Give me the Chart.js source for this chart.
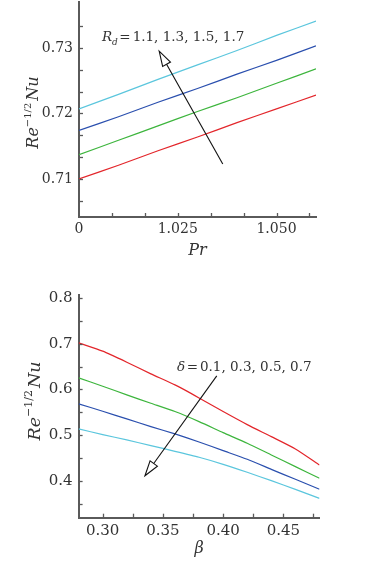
<!DOCTYPE html>
<html><head><meta charset="utf-8">
<script src="https://cdn.jsdelivr.net/npm/chart.js@4/dist/chart.umd.min.js"></script>
<style>
html,body{margin:0;padding:0;background:#fff;}
#wrap{position:relative;width:382px;height:565px;overflow:hidden;}
#c1{position:absolute;left:0;top:0;}
#c2{position:absolute;left:0;top:280px;}
</style></head><body>
<div id="wrap"><canvas id="c1" width="382" height="280"></canvas><canvas id="c2" width="382" height="285"></canvas></div>
<script>
// ---------- Top panel: Re^{-1/2}Nu vs Pr for Rd = 1.1, 1.3, 1.5, 1.7 ----------
const prValues = [1.00, 1.01, 1.02, 1.03, 1.04, 1.05, 1.06];
const nuRd11 = [0.7100, 0.7121, 0.7143, 0.7164, 0.7186, 0.7207, 0.7228];
const nuRd13 = [0.7137, 0.7159, 0.7181, 0.7203, 0.7224, 0.7246, 0.7268];
const nuRd15 = [0.7174, 0.7195, 0.7217, 0.7238, 0.7260, 0.7281, 0.7303];
const nuRd17 = [0.7207, 0.7229, 0.7252, 0.7274, 0.7296, 0.7319, 0.7341];
const prTicks = [1.0, 1.008333, 1.016667, 1.025, 1.033333, 1.041667, 1.05, 1.058333];
const prTickLabels = ['0', '', '', '1.025', '', '', '1.050', ''];
const nuTopTicks = [0.706667, 0.71, 0.713333, 0.716667, 0.72, 0.723333, 0.726667, 0.73, 0.733333];
const nuTopTickLabels = ['', '0.71', '', '', '0.72', '', '', '0.73', ''];

// ---------- Bottom panel: Re^{-1/2}Nu vs beta for delta = 0.1, 0.3, 0.5, 0.7 ----------
const betaValues = [0.28, 0.30, 0.32, 0.34, 0.36, 0.38, 0.40, 0.42, 0.44, 0.46, 0.48];
const nuDelta01 = [0.7022, 0.6839, 0.6598, 0.6342, 0.6101, 0.5815, 0.5516, 0.5230, 0.4967, 0.4697, 0.4346];
const nuDelta03 = [0.6254, 0.6071, 0.5881, 0.5698, 0.5516, 0.5296, 0.5055, 0.4821, 0.4565, 0.4309, 0.4053];
const nuDelta05 = [0.5684, 0.5523, 0.5355, 0.5187, 0.5026, 0.4850, 0.4660, 0.4470, 0.4250, 0.4031, 0.3812];
const nuDelta07 = [0.5135, 0.5011, 0.4894, 0.4770, 0.4645, 0.4514, 0.4360, 0.4185, 0.4002, 0.3812, 0.3614];
const betaTicks = [0.30, 0.325, 0.35, 0.375, 0.40, 0.425, 0.45, 0.475];
const betaTickLabels = ['0.30', '', '0.35', '', '0.40', '', '0.45', ''];
const nuBotTicks = [0.35, 0.4, 0.45, 0.5, 0.55, 0.6, 0.65, 0.7, 0.75, 0.8];
const nuBotTickLabels = ['', '0.4', '', '0.5', '', '0.6', '', '0.7', '', '0.8'];

// annotation anchors (data coordinates)
const topNote = { main: 'R', sub: 'd', rest: '1.1, 1.3, 1.5, 1.7', x: 1.0058, y: 0.7310, tail: [1.0364, 0.7123], tip: [1.0203, 0.7295] };
const botNote = { main: 'δ', sub: '', rest: '0.1, 0.3, 0.5, 0.7', x: 0.3617, y: 0.6413, tail: [0.3947, 0.6297], tip: [0.3351, 0.4110] };

const COLORS = ['#e3262b', '#3db53d', '#2a4fae', '#5bc6dd'];
const AXIS = '#5a5a5a';
const TXT = '#333333';
const SERIF = '"DejaVu Serif", "Liberation Serif", serif';

function decorPlugin(cfg) {
  return {
    id: 'decor',
    afterDatasetsDraw(chart) {
      const { ctx, chartArea: a, scales: { x, y } } = chart;
      ctx.save();
      // inward tick marks
      ctx.strokeStyle = AXIS; ctx.lineWidth = 1.3;
      x.ticks.forEach(t => {
        const px = Math.round(x.getPixelForValue(t.value)) + 0.5;
        if (px - a.left < 2) return;
        ctx.beginPath(); ctx.moveTo(px, a.bottom); ctx.lineTo(px, a.bottom - 4); ctx.stroke();
      });
      y.ticks.forEach(t => {
        const py = Math.round(y.getPixelForValue(t.value)) + 0.5;
        if (a.bottom - py < 2) return;
        ctx.beginPath(); ctx.moveTo(a.left, py); ctx.lineTo(a.left + 4, py); ctx.stroke();
      });
      // y-axis title Re^{-1/2}Nu (rotated)
      ctx.fillStyle = TXT;
      ctx.translate(cfg.yTitleX, cfg.yTitleY);
      ctx.rotate(-Math.PI / 2);
      const fMain = 'italic ' + cfg.yTitleSize + 'px ' + SERIF;
      const fSup = Math.round(cfg.yTitleSize * 0.62) + 'px ' + SERIF;
      ctx.font = fMain; const w1 = ctx.measureText('Re').width; const w3 = ctx.measureText('Nu').width;
      ctx.font = fSup; const w2 = ctx.measureText('−1/2').width;
      const tot = w1 + w2 + w3 + 2;
      let cx = -tot / 2;
      ctx.textBaseline = 'alphabetic';
      ctx.font = fMain; ctx.fillText('Re', cx, 0); cx += w1;
      ctx.font = fSup; ctx.fillText('−1/2', cx, -cfg.yTitleSize * 0.42); cx += w2 + 2;
      ctx.font = fMain; ctx.fillText('Nu', cx, 0);
      ctx.restore();

      // annotation text
      const n = cfg.note;
      ctx.save();
      ctx.fillStyle = TXT; ctx.textBaseline = 'alphabetic';
      let tx = x.getPixelForValue(n.x); const ty = y.getPixelForValue(n.y);
      ctx.font = 'italic ' + cfg.noteSize + 'px ' + SERIF;
      ctx.fillText(n.main, tx, ty); tx += ctx.measureText(n.main).width;
      if (n.sub) {
        ctx.font = 'italic ' + Math.round(cfg.noteSize * 0.7) + 'px ' + SERIF;
        ctx.fillText(n.sub, tx, ty + 4); tx += ctx.measureText(n.sub).width;
      }
      ctx.font = cfg.noteSize + 'px ' + SERIF;
      tx += 1.5; ctx.fillText('=', tx, ty); tx += ctx.measureText('=').width + 2;
      ctx.fillText(n.rest, tx, ty);
      // arrow with hollow head
      const x0 = x.getPixelForValue(n.tail[0]), y0 = y.getPixelForValue(n.tail[1]);
      const x1 = x.getPixelForValue(n.tip[0]), y1 = y.getPixelForValue(n.tip[1]);
      const ang = Math.atan2(y1 - y0, x1 - x0);
      const L = 15, W = 4.5;
      const bx = x1 - L * Math.cos(ang), by = y1 - L * Math.sin(ang);
      ctx.strokeStyle = '#111'; ctx.lineWidth = 1.1;
      ctx.beginPath(); ctx.moveTo(x0, y0); ctx.lineTo(bx, by); ctx.stroke();
      ctx.beginPath();
      ctx.moveTo(x1, y1);
      ctx.lineTo(bx + W * Math.sin(ang), by - W * Math.cos(ang));
      ctx.lineTo(bx - W * Math.sin(ang), by + W * Math.cos(ang));
      ctx.closePath();
      ctx.fillStyle = '#fff'; ctx.fill(); ctx.stroke();
      ctx.restore();
    }
  };
}

function zeroPad(s) { s.paddingTop = 0; s.paddingBottom = 0; s.paddingLeft = 0; s.paddingRight = 0; }

function panel(id, cfg) {
  return new Chart(document.getElementById(id), {
    type: 'line',
    data: {
      datasets: cfg.series.map((s, i) => ({
        data: cfg.xs.map((xv, j) => ({ x: xv, y: s[j] })),
        borderColor: COLORS[i], borderWidth: 1.2, pointRadius: 0, tension: 0.2, fill: false
      }))
    },
    options: {
      responsive: false, animation: false, devicePixelRatio: 1,
      layout: { padding: cfg.padding },
      plugins: { legend: { display: false }, tooltip: { enabled: false } },
      scales: {
        x: {
          type: 'linear', min: cfg.xMin, max: cfg.xMax,
          grid: { display: false, drawTicks: false },
          border: { display: true, color: AXIS, width: 2 },
          afterBuildTicks: s => { s.ticks = cfg.xTicks.map(v => ({ value: v })); },
          afterFit: s => { s.height = cfg.xAxisHeight; zeroPad(s); },
          ticks: { autoSkip: false, maxRotation: 0, padding: 4, color: TXT,
                   font: { family: SERIF, size: cfg.tickSize },
                   callback: (v, i) => cfg.xLabels[i] },
          title: { display: true, text: cfg.xTitle, color: TXT,
                   font: { family: SERIF, size: 16, style: 'italic' },
                   padding: { top: 0, bottom: cfg.xTitlePad } }
        },
        y: {
          type: 'linear', min: cfg.yMin, max: cfg.yMax,
          grid: { display: false, drawTicks: false },
          border: { display: true, color: AXIS, width: 2 },
          afterBuildTicks: s => { s.ticks = cfg.yTicks.map(v => ({ value: v })); },
          afterFit: s => { s.width = cfg.yAxisWidth; zeroPad(s); },
          ticks: { autoSkip: false, padding: 6, color: TXT,
                   font: { family: SERIF, size: cfg.tickSize },
                   callback: (v, i) => cfg.yLabels[i] }
        }
      }
    },
    plugins: [decorPlugin(cfg)]
  });
}

panel('c1', {
  xs: prValues, series: [nuRd11, nuRd13, nuRd15, nuRd17],
  xMin: 1.0, xMax: 1.06, yMin: 0.7042, yMax: 0.7370,
  xTicks: prTicks, xLabels: prTickLabels, yTicks: nuTopTicks, yLabels: nuTopTickLabels,
  padding: { left: 0, top: 2, right: 66, bottom: 0 },
  xAxisHeight: 63, yAxisWidth: 79, tickSize: 14, xTitle: 'Pr', xTitlePad: 20,
  yTitleX: 37.5, yTitleY: 112.5, yTitleSize: 16, note: topNote, noteSize: 13.5
});

panel('c2', {
  xs: betaValues, series: [nuDelta01, nuDelta03, nuDelta05, nuDelta07],
  xMin: 0.28, xMax: 0.48, yMin: 0.319, yMax: 0.807,
  xTicks: betaTicks, xLabels: betaTickLabels, yTicks: nuBotTicks, yLabels: nuBotTickLabels,
  padding: { left: 0, top: 15, right: 62.5, bottom: 0 },
  xAxisHeight: 47.3, yAxisWidth: 78.6, tickSize: 15, xTitle: 'β', xTitlePad: 7,
  yTitleX: 39.5, yTitleY: 121, yTitleSize: 17.5, note: botNote, noteSize: 13.5
});
</script>
</body></html>
